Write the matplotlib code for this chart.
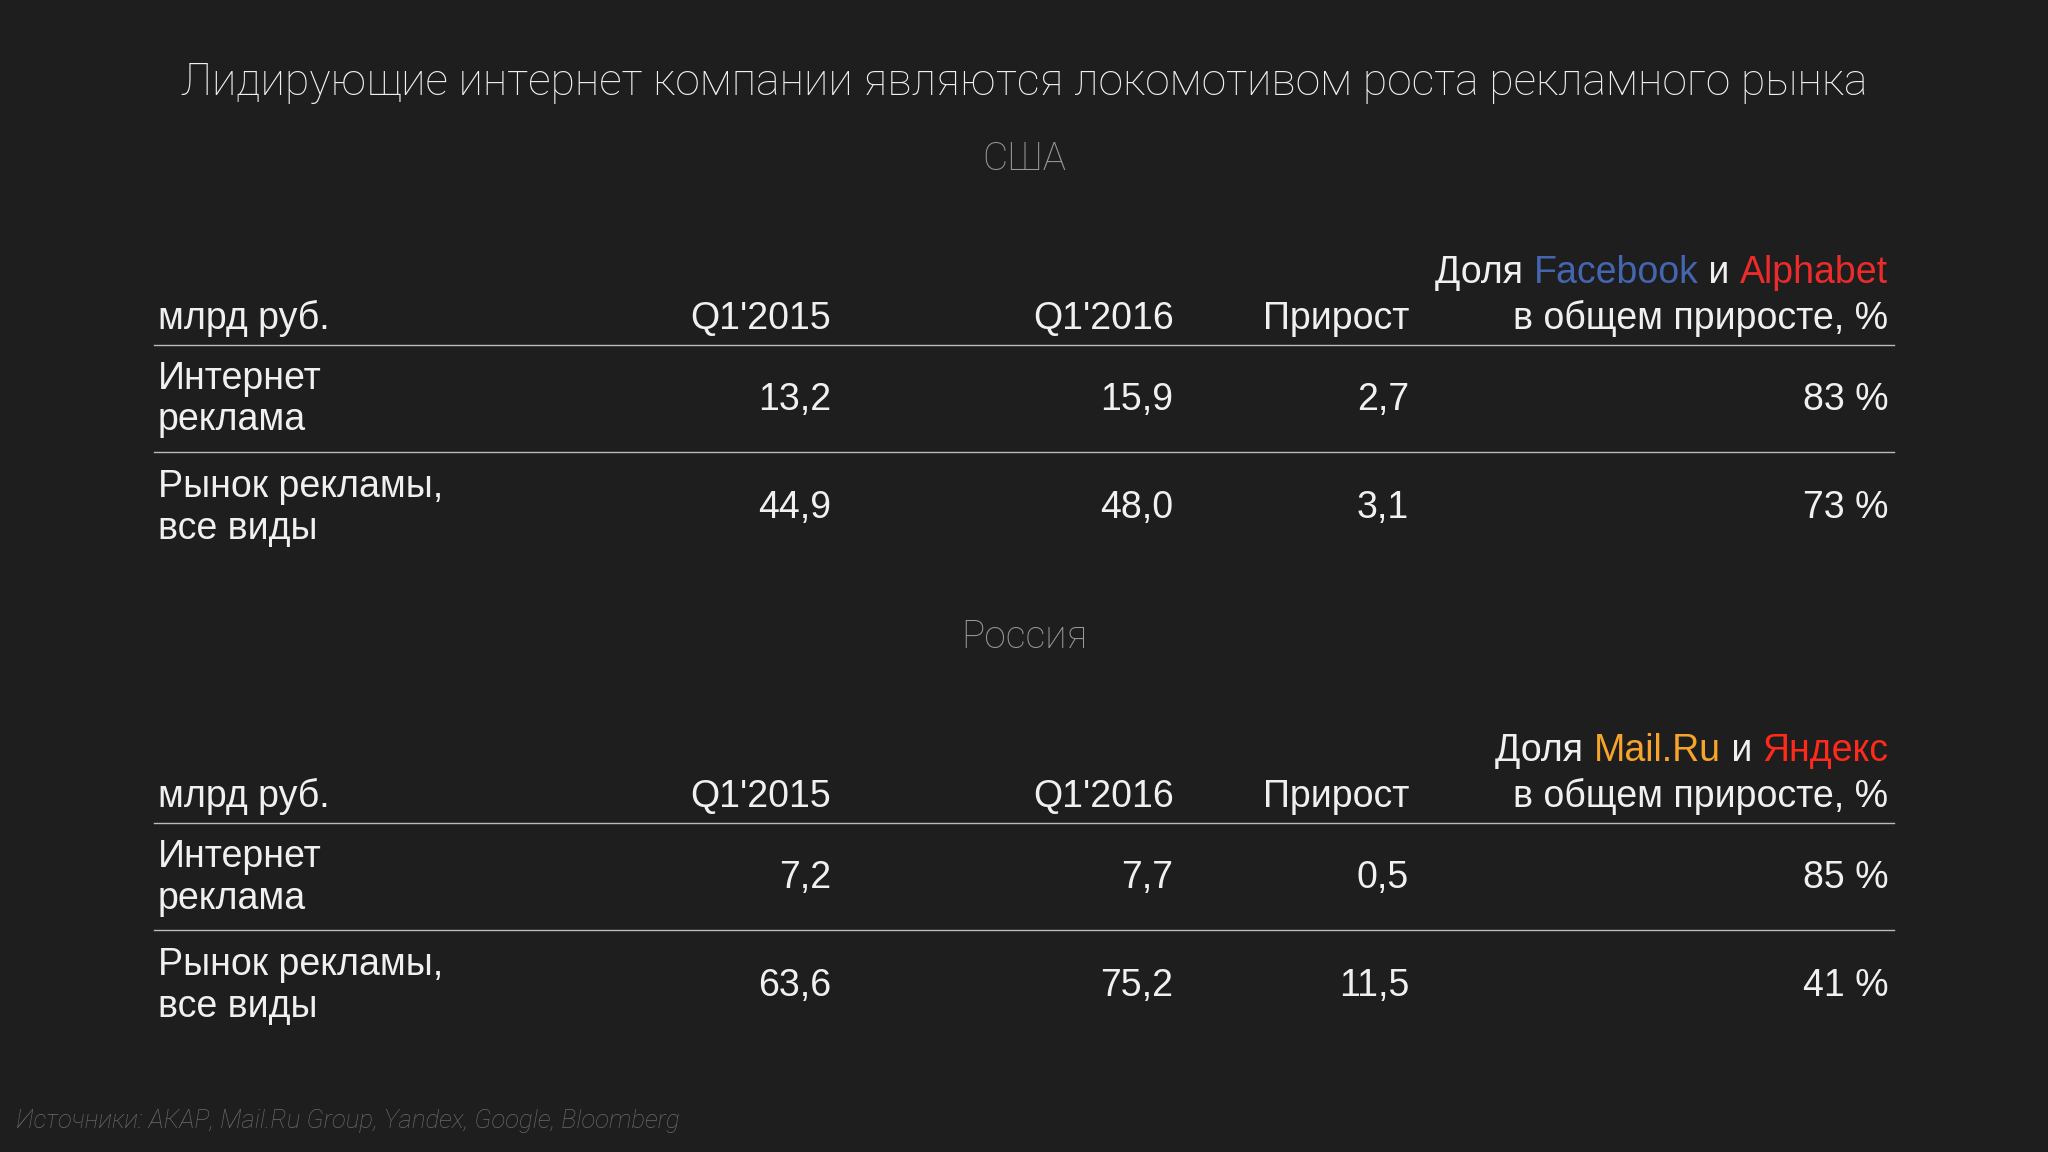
import matplotlib
matplotlib.use("Agg")
import matplotlib.pyplot as plt

title = "Лидирующие интернет компании являются локомотивом роста рекламного рынка"
columns = ["млрд руб.", "Q1'2015", "Q1'2016", "Прирост", "в общем приросте, %"]
row_names = ["Интернет\nреклама", "Рынок рекламы,\nвсе виды"]

usa_q1_2015 = ["13,2", "44,9"]
usa_q1_2016 = ["15,9", "48,0"]
usa_growth = ["2,7", "3,1"]
usa_share = ["83 %", "73 %"]
usa_head = [("Доля ", "#f0f0f0"), ("Facebook", "#4565b0"), (" и ", "#f0f0f0"), ("Alphabet", "#ee2b2b")]

rus_q1_2015 = ["7,2", "63,6"]
rus_q1_2016 = ["7,7", "75,2"]
rus_growth = ["0,5", "11,5"]
rus_share = ["85 %", "41 %"]
rus_head = [("Доля ", "#f0f0f0"), ("Mail.Ru", "#f6a52a"), (" и ", "#f0f0f0"), ("Яндекс", "#ff2a1a")]

source = "Источники: АКАР, Mail.Ru Group, Yandex, Google, Bloomberg"

BG = "#1e1e1e"
FG = "#f0f0f0"
H = 882.0
FS = 27
FONT = "Liberation Sans"

fig = plt.figure(figsize=(20.48, 11.52), dpi=100, facecolor=BG)
renderer = fig.canvas.get_renderer()


def fy(py):
    return 1 - py / H


col_x = [0.077, 0.406, 0.573, 0.688, 0.922]


def colored_right(x, y, parts):
    # draw runs right to left so the whole line is right-aligned at x
    for s, c in reversed(parts):
        t = fig.text(x, y, s, color=c, fontsize=FS, family=FONT, ha="right", va="center")
        bb = t.get_window_extent(renderer)
        x -= bb.width / fig.bbox.width


def block(top, name, head, c1, c2, c3, c4):
    fig.text(0.5, fy(top), name, color="#9a9a9a", fontsize=28, family="Roboto", ha="center", va="center",
             fontweight="light")
    colored_right(col_x[4], fy(top + 87), head)
    hy = fy(top + 122)
    for i, c in enumerate(columns):
        fig.text(col_x[i], hy, c, color=FG, fontsize=FS, family=FONT,
                 ha="left" if i == 0 else "right", va="center")
    for ly in (top + 142, top + 224):
        fig.add_artist(plt.Line2D([0.075, 0.925], [fy(ly), fy(ly)], color="#bbbbbb", lw=1))
    for r in range(2):
        vy = fy(top + 184 + 83 * r)
        fig.text(col_x[0], vy, row_names[r], color=FG, fontsize=FS, family=FONT, ha="left", va="center",
                 linespacing=1.2)
        for i, vals in enumerate([c1, c2, c3, c4]):
            fig.text(col_x[i + 1], vy, vals[r], color=FG, fontsize=FS, family=FONT, ha="right", va="center")


fig.text(0.5, fy(63), title, color=FG, fontsize=32, family="Roboto", ha="center", va="center",
         fontweight="light")
block(122, "США", usa_head, usa_q1_2015, usa_q1_2016, usa_growth, usa_share)
block(488, "Россия", rus_head, rus_q1_2015, rus_q1_2016, rus_growth, rus_share)
fig.text(0.008, fy(858), source, color="#6a6a6a", fontsize=18.5, family="Roboto", style="italic",
         ha="left", va="center", fontweight="light")

fig.savefig("out.png", dpi=100, facecolor=BG)
